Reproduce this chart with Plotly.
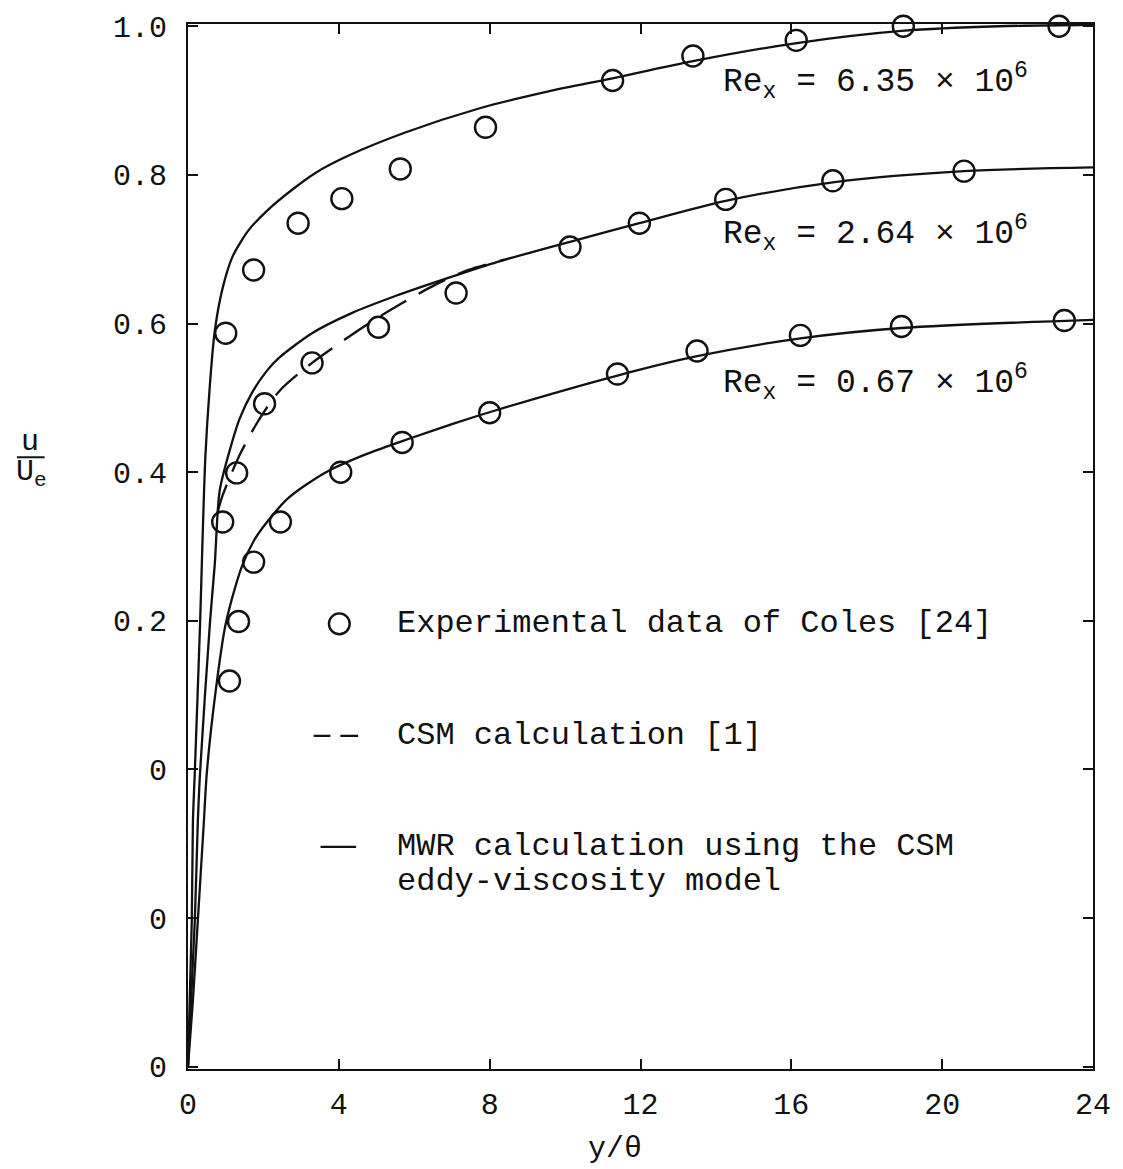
import plotly.graph_objects as go

# ---------------------------------------------------------------
# Velocity profiles u/Ue versus y/theta for three Reynolds numbers.
# Profiles are staggered vertically; ordinates are given as drawn
# on the shared axis (each profile has its own "0" tick).
# ---------------------------------------------------------------

# y-axis ticks and the labels printed beside them
Y_TICKS = [-0.4, -0.2, 0.0, 0.2, 0.4, 0.6, 0.8, 1.0]
Y_TICK_LABELS = ["0", "0", "0", "0.2", "0.4", "0.6", "0.8", "1.0"]
X_TICKS = [0, 4, 8, 12, 16, 20, 24]

# MWR calculation, Re_x = 6.35e6
mwr_635_x = [0, 0.10, 0.13, 0.18, 0.32, 0.38, 0.46, 0.57, 0.71, 0.92, 1.18, 1.4,
             1.63, 2.1, 2.76, 3.39, 4.26, 5.76, 7.76, 9.53, 11.26, 13.39, 16.1,
             19.0, 21.5, 24]
mwr_635_y = [-0.4, -0.204, -0.071, -0.004, 0.196, 0.30, 0.42, 0.51, 0.59, 0.648,
             0.69, 0.71, 0.727, 0.752, 0.78, 0.803, 0.826, 0.857, 0.89, 0.912,
             0.93, 0.953, 0.977, 0.994, 1.0, 1.002]

# MWR calculation, Re_x = 2.64e6
mwr_264_x = [0, 0.18, 0.26, 0.32, 0.58, 0.71, 0.84, 1.11, 1.37, 1.71, 2.1, 2.42,
             3.29, 4.34, 5.5, 6.82, 8.21, 10.13, 11.97, 14.26, 17.1, 20.58, 24]
mwr_264_y = [-0.4, -0.204, -0.071, -0.004, 0.196, 0.276, 0.375, 0.43, 0.472, 0.508,
             0.537, 0.554, 0.587, 0.614, 0.637, 0.66, 0.683, 0.71, 0.735, 0.765,
             0.79, 0.805, 0.81]

# MWR calculation, Re_x = 0.67e6
mwr_067_x = [0, 0.13, 0.26, 0.42, 0.5, 0.72, 1.0, 1.42, 1.75, 2.08, 2.68, 3.66,
             4.71, 5.92, 7.08, 8.21, 11.39, 13.5, 16.24, 18.92, 24]
mwr_067_y = [-0.4, -0.311, -0.204, -0.071, -0.004, 0.1, 0.196, 0.272, 0.308, 0.332,
             0.366, 0.4, 0.424, 0.446, 0.466, 0.484, 0.53, 0.556, 0.58, 0.594, 0.605]

# CSM calculation [1], Re_x = 2.64e6
csm_264_x = [0.78, 0.92, 1.37, 1.84, 2.42, 3.29, 4.58, 5.39, 6.55, 7.42, 8.4]
csm_264_y = [0.345, 0.369, 0.423, 0.467, 0.509, 0.547, 0.593, 0.619, 0.652, 0.672, 0.686]

# Experimental data of Coles [24]
exp_635_x = [1.0, 1.74, 2.92, 4.08, 5.63, 7.89, 11.26, 13.39, 16.13, 18.97, 23.1]
exp_635_y = [0.587, 0.672, 0.735, 0.768, 0.808, 0.864, 0.927, 0.96, 0.981, 1.0, 1.0]

exp_264_x = [0.92, 1.29, 2.03, 3.29, 5.05, 7.11, 10.13, 11.97, 14.26, 17.1, 20.58]
exp_264_y = [0.333, 0.399, 0.492, 0.547, 0.595, 0.641, 0.703, 0.735, 0.767, 0.792, 0.805]

exp_067_x = [1.1, 1.34, 1.74, 2.45, 4.05, 5.68, 8.0, 11.39, 13.5, 16.24, 18.92, 23.24]
exp_067_y = [0.119, 0.199, 0.279, 0.333, 0.4, 0.44, 0.48, 0.532, 0.563, 0.584, 0.596, 0.604]

RE_LABELS = ["6.35", "2.64", "0.67"]

FONT = "Liberation Mono"
INK = "#111111"

# plot-area geometry in page pixels
W, H = 1123, 1169
L, R, T, B = 188, 20, 15, 100
PW, PH = W - L - R, H - T - B


def paper(px, py):
    """Page pixel position -> paper coordinates."""
    return (px - L) / PW, (H - B - py) / PH


fig = go.Figure()

line_style = dict(color=INK, width=2.3, shape="spline", smoothing=0.8)
for xs, ys in [(mwr_635_x, mwr_635_y), (mwr_264_x, mwr_264_y), (mwr_067_x, mwr_067_y)]:
    fig.add_trace(go.Scatter(x=xs, y=ys, mode="lines", line=line_style,
                             hoverinfo="skip", showlegend=False))

fig.add_trace(go.Scatter(x=csm_264_x, y=csm_264_y, mode="lines",
                         line=dict(color=INK, width=2.3, dash="30px,14px",
                                   shape="spline", smoothing=0.8),
                         hoverinfo="skip", showlegend=False))

marker_style = dict(symbol="circle-open", size=21, color=INK, line=dict(width=2.4, color=INK))
for xs, ys in [(exp_635_x, exp_635_y), (exp_264_x, exp_264_y), (exp_067_x, exp_067_y)]:
    fig.add_trace(go.Scatter(x=xs, y=ys, mode="markers", marker=marker_style,
                             cliponaxis=False, showlegend=False))

axis_common = dict(showline=True, linecolor=INK, linewidth=2, mirror="ticks",
                   ticks="inside", ticklen=10, tickwidth=2, tickcolor=INK,
                   showgrid=False, zeroline=False,
                   tickfont=dict(family=FONT, size=30, color=INK))

fig.update_xaxes(range=[0, 24], tickvals=X_TICKS, ticklabelstandoff=7, **axis_common)
fig.update_yaxes(range=[-0.403, 1.003], tickvals=Y_TICKS, ticktext=Y_TICK_LABELS,
                 ticklabelstandoff=13, **axis_common)

annotations = []
shapes = []


def text_at(px, py, txt, size=32, anchor="left"):
    xp, yp = paper(px, py)
    annotations.append(dict(x=xp, y=yp, xref="paper", yref="paper", text=txt,
                            showarrow=False, xanchor=anchor, yanchor="middle",
                            font=dict(family=FONT, size=size, color=INK)))


# Reynolds-number labels beside each profile
for label, py in zip(RE_LABELS, [73, 226, 377]):
    text_at(727, py, f"Re<sub>x</sub> = {label} × 10<sup>6</sup>", size=33)

# key
cx, cy = paper(341, 620)
rx, ry = 10.5 / PW, 10.5 / PH
shapes.append(dict(type="circle", xref="paper", yref="paper",
                   x0=cx - rx, x1=cx + rx, y0=cy - ry, y1=cy + ry,
                   line=dict(color=INK, width=2.4)))
text_at(397, 620, "Experimental data of Coles [24]")

for x0, x1 in [(315, 332), (342, 360)]:
    a0, b0 = paper(x0, 733)
    a1, _ = paper(x1, 733)
    shapes.append(dict(type="line", xref="paper", yref="paper", x0=a0, x1=a1,
                       y0=b0, y1=b0, line=dict(color=INK, width=2.3)))
text_at(397, 733, "CSM calculation [1]")

a0, b0 = paper(322, 845)
a1, _ = paper(358, 845)
shapes.append(dict(type="line", xref="paper", yref="paper", x0=a0, x1=a1,
                   y0=b0, y1=b0, line=dict(color=INK, width=2.3)))
text_at(397, 845, "MWR calculation using the CSM")
text_at(397, 880, "eddy-viscosity model")

# axis titles
text_at(620, 1150, "y/θ", size=30, anchor="center")
text_at(28, 437, "u", size=30, anchor="center")
text_at(30, 468, "U<sub>e</sub>", size=30, anchor="center")
a0, b0 = paper(15, 452)
a1, _ = paper(43, 452)
shapes.append(dict(type="line", xref="paper", yref="paper", x0=a0, x1=a1,
                   y0=b0, y1=b0, line=dict(color=INK, width=2)))

fig.update_layout(width=W, height=H, autosize=False,
                  margin=dict(l=L, r=R, t=T, b=B),
                  paper_bgcolor="white", plot_bgcolor="white",
                  annotations=annotations, shapes=shapes, showlegend=False)

fig.write_html("out.html")
